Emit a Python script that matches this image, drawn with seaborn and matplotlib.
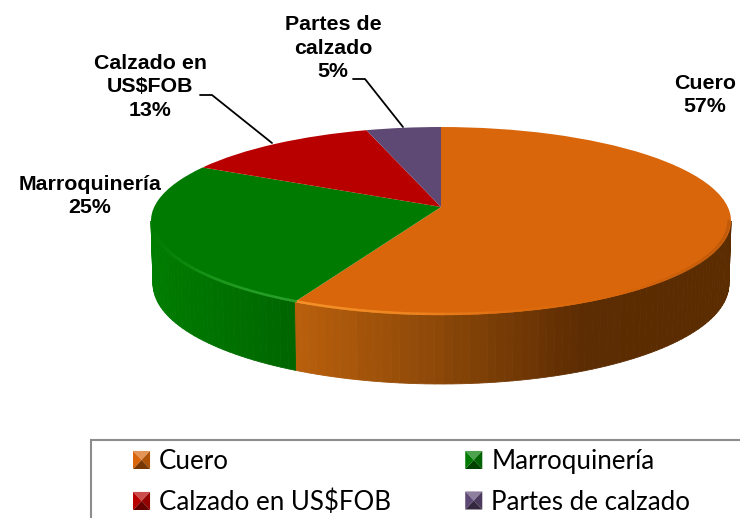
import numpy as np
import seaborn as sns
import matplotlib
matplotlib.use("Agg")
import matplotlib.pyplot as plt
from matplotlib.colors import to_rgb
from matplotlib.legend_handler import HandlerBase
from matplotlib.patches import Patch, Polygon, Rectangle
from matplotlib.transforms import Transform

categories = ["Cuero", "Marroquinería", "Calzado en US$FOB", "Partes de calzado"]
wrapped_labels = ["Cuero", "Marroquinería", "Calzado en\nUS$FOB", "Partes de\ncalzado"]
shares = [57.3, 25.3, 12.6, 4.8]
top_colors = ["#D9660A", "#007A00", "#B80000", "#5E4874"]

# wall shading, left to right across the visible part of each slice
wall_colors = {
    0: ["#B85F0C", "#8B4708", "#5C2C02", "#5B2C00"],
    1: ["#007C00", "#006600"],
}
bevel_colors = {
    0: ["#F59128", "#EE8520", "#DD6C0E", "#D9660A", "#C05A0A"],
    1: ["#007A00", "#1E9A1E", "#2AA02A"],
}

# view of the tilted disc, in pixels
APEX_X, APEX_Y = 441, 207
DISC_A, DISC_B, TILT = 91.9, 286.8, 0.149


class TiltedDisc(Transform):
    input_dims = output_dims = 2

    def transform_non_affine(self, values):
        u, v = np.asarray(values, float).T
        w = 1 + TILT * v
        return np.column_stack((APEX_X + DISC_B * u / w, APEX_Y - DISC_A * v / w))


class BevelHandle(HandlerBase):
    def create_artists(self, legend, orig_handle, xdescent, ydescent, width, height, fontsize, trans):
        base = np.array(to_rgb(orig_handle.get_facecolor()))
        x0, y0, x1, y1 = -xdescent, -ydescent, width - xdescent, height - ydescent
        mid = ((x0 + x1) / 2, (y0 + y1) / 2)
        corners = [(x0, y1), (x1, y1), (x1, y0), (x0, y0)]
        shades = [base * 0.7 + 0.3, base * 0.8, base * 0.55, base * 1.0]
        return [Polygon([corners[i], corners[(i + 1) % 4], mid], closed=True, facecolor=shades[i],
                        edgecolor="none", transform=trans) for i in range(4)]


def rim(theta_deg, scale=1.0):
    # theta runs clockwise from the top of the disc, as the pie is drawn
    t = np.radians(theta_deg)
    return TiltedDisc().transform_non_affine(np.column_stack((scale * np.sin(t), scale * np.cos(t))))


sns.set_theme(style="white")
plt.rcParams["font.family"] = ["Liberation Sans", "DejaVu Sans"]

fig = plt.figure(figsize=(7.4, 5.18), dpi=100)
ax = fig.add_axes([0, 0, 1, 1])

wedges, _ = ax.pie(shares, colors=top_colors, startangle=90, counterclock=False,
                   wedgeprops={"linewidth": 0})
for w in wedges:
    w.set_transform(TiltedDisc() + ax.transData)
    w.set_zorder(3)
ax.set_aspect("auto")
ax.set_xlim(0, 740)
ax.set_ylim(518, 0)
ax.axis("off")

# side wall and rim, only the front of the disc shows
front_start = np.degrees(np.pi - np.arccos(TILT))
front_end = 360 - front_start
bounds = np.cumsum([0] + [s * 3.6 for s in shares])
for i, shades in wall_colors.items():
    start, end = max(bounds[i], front_start), min(bounds[i + 1], front_end)
    thetas = np.arange(start, end + 1.5, 1.5)
    thetas[-1] = end
    upper = rim(thetas)
    lower = rim(thetas, 0.993)
    v = np.cos(np.radians(thetas))
    lower[:, 1] = upper[:, 1] + 62 - 7 * v
    x_lo, x_hi = upper[:, 0].min(), upper[:, 0].max()
    wall_pal = sns.blend_palette(shades, 60)
    bevel_pal = sns.blend_palette(bevel_colors[i], 60)
    for j in range(len(thetas) - 1):
        f = (upper[j:j + 2, 0].mean() - x_lo) / (x_hi - x_lo)
        c = wall_pal[min(int(f * 60), 59)]
        ax.fill([upper[j, 0], upper[j + 1, 0], lower[j + 1, 0], lower[j, 0]],
                [upper[j, 1], upper[j + 1, 1], lower[j + 1, 1], lower[j, 1]],
                color=c, lw=0.6, zorder=2)
    inner = rim(thetas, 0.992)
    for j in range(len(thetas) - 1):
        f = (inner[j:j + 2, 0].mean() - x_lo) / (x_hi - x_lo)
        ax.plot(inner[j:j + 2, 0], inner[j:j + 2, 1], color=bevel_pal[min(int(f * 60), 59)],
                lw=1.8, solid_capstyle="round", zorder=4)

# data labels
label_spots = [(705, 95), (90, 196), (150, 87), (333, 48)]
for name, share, (lx, ly) in zip(wrapped_labels, shares, label_spots):
    ax.text(lx, ly, f"{name}\n{share:.0f}%", ha="center", va="center", fontsize=15.4,
            fontweight="bold", color="black", linespacing=1.32)

# leader lines
ax.plot([200, 212, 272], [95, 95, 143], color="black", lw=1.3, zorder=5)
ax.plot([353, 365, 403], [79, 79, 127], color="black", lw=1.3, zorder=5)

# legend box runs off the right and bottom of the picture
ax.add_patch(Rectangle((91, 440), 700, 120, facecolor="white", edgecolor="#8C8C8C", lw=1.5, zorder=1))
order = [0, 2, 1, 3]
handles = [Patch(facecolor=top_colors[i]) for i in order]
ax.legend(handles, [categories[i] for i in order], ncols=2, frameon=False, loc="upper left",
          bbox_to_anchor=(133, 449), bbox_transform=ax.transData, borderpad=0, borderaxespad=0,
          handler_map={Patch: BevelHandle()},
          prop={"family": "Lato", "size": 18.6}, handlelength=0.66, handleheight=0.7,
          handletextpad=0.35, columnspacing=2.87, labelspacing=0.6, labelcolor="black")

fig.savefig("out.png", dpi=100)
